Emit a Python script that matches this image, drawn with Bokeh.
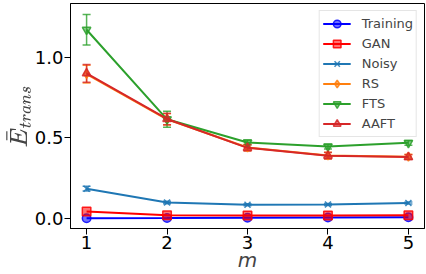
import math
from bokeh.plotting import figure
from bokeh.models import (ColumnDataSource, Whisker, TeeHead, Legend, LegendItem,
                          FixedTicker, Range1d, NumeralTickFormatter)
from bokeh.embed import file_html
from bokeh.resources import INLINE

m = [1, 2, 3, 4, 5]
training = [0.002, 0.003, 0.005, 0.006, 0.008]
gan = [0.043, 0.020, 0.018, 0.019, 0.020]
noisy = [0.185, 0.099, 0.085, 0.087, 0.096]
noisy_err = [0.015, 0.008, 0.006, 0.006, 0.006]
rs = [0.895, 0.615, 0.440, 0.390, 0.383]
rs_err = [0.055, 0.035, 0.020, 0.020, 0.015]
fts = [1.170, 0.615, 0.471, 0.446, 0.469]
fts_err = [0.095, 0.050, 0.015, 0.015, 0.015]
aaft = [0.900, 0.617, 0.438, 0.389, 0.381]
aaft_err = [0.055, 0.035, 0.020, 0.020, 0.015]

series = [
    ("Training", training, None, "#0000ff", "circle"),
    ("GAN", gan, None, "#ff0000", "square"),
    ("Noisy", noisy, noisy_err, "#1f77b4", "x"),
    ("RS", rs, rs_err, "#ff7f0e", "diamond"),
    ("FTS", fts, fts_err, "#2ca02c", "inverted_triangle"),
    ("AAFT", aaft, aaft_err, "#d62728", "triangle"),
]

p = figure(width=426, height=274, output_backend="svg", toolbar_location=None,
           x_range=Range1d(0.8, 5.2), y_range=Range1d(-0.062, 1.333),
           min_border_left=69, min_border_right=2, min_border_top=3,
           min_border_bottom=45)
p.xgrid.visible = False
p.ygrid.visible = False
p.outline_line_color = "black"
p.outline_line_alpha = 1

FONT = "DejaVu Sans"
items = []
for name, vals, errs, color, marker in series:
    data = dict(x=m, y=vals)
    if errs is not None:
        data["lo"] = [v - e for v, e in zip(vals, errs)]
        data["hi"] = [v + e for v, e in zip(vals, errs)]
    src = ColumnDataSource(data)
    rends = []
    if errs is not None:
        w = Whisker(source=src, base="x", lower="lo", upper="hi",
                    line_color=color, line_width=1.5, line_alpha=0.8,
                    upper_head=TeeHead(size=8, line_color=color, line_width=1.5, line_alpha=0.8),
                    lower_head=TeeHead(size=8, line_color=color, line_width=1.5, line_alpha=0.8))
        p.add_layout(w)
        eb = p.scatter(x=[float("nan")], y=[float("nan")], marker="dash",
                       angle=math.pi / 2, size=12,
                       line_color=color, line_width=1.5, line_alpha=0.8)
        rends.append(eb)
    ln = p.line("x", "y", source=src, line_color=color, line_width=2)
    sc = p.scatter("x", "y", source=src, marker=marker, size=8.5,
                   line_color=color, fill_color=color, fill_alpha=0.55,
                   line_alpha=0.85, line_width=1.5)
    rends = [ln] + rends + [sc]
    items.append(LegendItem(label=name, renderers=rends))

legend = Legend(items=items, location="top_right",
                label_text_font=FONT, label_text_font_size="13px",
                glyph_width=28, glyph_height=19, label_height=19,
                label_standoff=11, spacing=1, padding=3, margin=7,
                border_line_color="#cccccc", border_line_width=1,
                background_fill_alpha=0.9)
p.add_layout(legend)

p.xaxis.ticker = FixedTicker(ticks=m)
p.yaxis.ticker = FixedTicker(ticks=[0.0, 0.5, 1.0])
p.yaxis.formatter = NumeralTickFormatter(format="0.0")
for ax in (p.xaxis, p.yaxis):
    ax.major_label_text_font = FONT
    ax.major_label_text_font_size = "18px"
    ax.major_label_text_color = "black"
    ax.axis_label_text_font = FONT
    ax.axis_label_text_font_style = "italic"
    ax.axis_label_text_font_size = "20px"
    ax.axis_line_color = "black"
    ax.major_tick_line_color = "black"
    ax.major_tick_out = 6
    ax.major_tick_in = 0
    ax.minor_tick_out = 0
    ax.minor_tick_in = 0
    ax.major_label_standoff = 1
p.xaxis.axis_label = "m"
p.xaxis.axis_label_standoff = -4
p.yaxis.axis_label = r"$$\bar{E}_{trans}$$"
p.yaxis.axis_label_standoff = 1

open("out.html", "w").write(file_html(p, INLINE))
